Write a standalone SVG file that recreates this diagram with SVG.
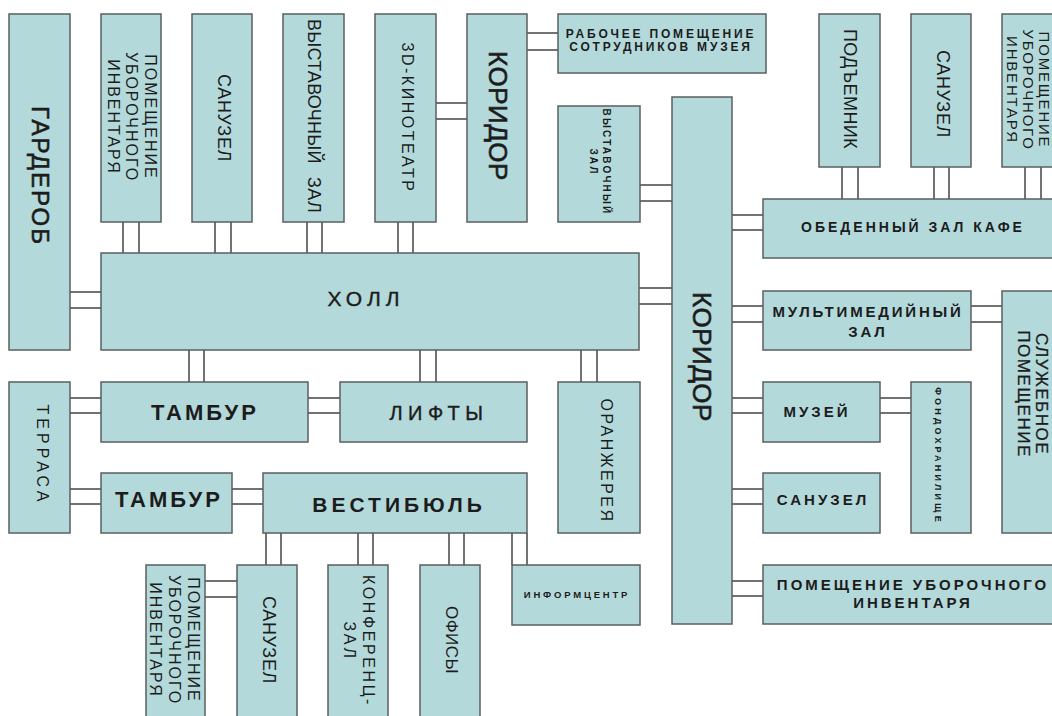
<svg xmlns="http://www.w3.org/2000/svg" width="1052" height="716" viewBox="0 0 1052 716">
<style>
.box{fill:#b4d9da;stroke:#5a5f60;stroke-width:1.5}
.c path{stroke:#444;stroke-width:1.5;fill:none}
text{font-family:"Liberation Sans",Arial,sans-serif;fill:#1c1c1c;text-anchor:middle}
.b{font-weight:bold}
.m{stroke:#1c1c1c;stroke-width:0.6}
</style>
<rect width="1052" height="716" fill="#fff"/>
<g id="connectors" class="c">
<path d="M123 222V253M139 222V253"/>
<path d="M215 222V253M231 222V253"/>
<path d="M307 222V253M322 222V253"/>
<path d="M398 222V253M413 222V253"/>
<path d="M189 350V382M204 350V382"/>
<path d="M420 350V382M436 350V382"/>
<path d="M581 350V382M597 350V382"/>
<path d="M842 167V199M858 167V199"/>
<path d="M934 167V199M949 167V199"/>
<path d="M1025 167V199M1041 167V199"/>
<path d="M266 533V565M281 533V565"/>
<path d="M358 533V565M373 533V565"/>
<path d="M449 533V565M464 533V565"/>
<path d="M512 533V565M527 533V565"/>
<path d="M436 103H467M436 119H467"/>
<path d="M527 33H558M527 50H558"/>
<path d="M640 185H672M640 201H672"/>
<path d="M639 288H672M639 304H672"/>
<path d="M732 215H763M732 230H763"/>
<path d="M732 306H763M732 322H763"/>
<path d="M732 398H763M732 413H763"/>
<path d="M732 489H763M732 504H763"/>
<path d="M732 581H763M732 596H763"/>
<path d="M971 306H1002M971 322H1002"/>
<path d="M880 398H911M880 413H911"/>
<path d="M70 292H101M70 308H101"/>
<path d="M70 398H101M70 413H101"/>
<path d="M308 398H340M308 413H340"/>
<path d="M70 489H101M70 504H101"/>
<path d="M232 489H263M232 504H263"/>
<path d="M205 581H237M205 597H237"/>
</g>
<g id="garderob"><rect class="box" x="9" y="14" width="61" height="336"/>
<text class="m" font-size="24" letter-spacing="2" transform="translate(40.5,176) rotate(90)" y="8.5">ГАРДЕРОБ</text></g>
<g id="pom-ub-1"><rect class="box" x="101" y="14" width="60" height="208"/>
<text font-size="16" letter-spacing="2" transform="translate(132,117) rotate(90)"><tspan x="0" y="-12.5">ПОМЕЩЕНИЕ</tspan><tspan x="0" y="6">УБОРОЧНОГО</tspan><tspan x="0" y="24.5">ИНВЕНТАРЯ</tspan></text></g>
<g id="sanuzel-1"><rect class="box" x="192" y="14" width="60" height="208"/>
<text font-size="18" letter-spacing="0.7" transform="translate(224,118) rotate(90)" y="6.5">САНУЗЕЛ</text></g>
<g id="vyst-zal-1"><rect class="box" x="283" y="14" width="61" height="208"/>
<text font-size="18" letter-spacing="0.3" word-spacing="8" transform="translate(314,116) rotate(90)" y="6.5">ВЫСТАВОЧНЫЙ ЗАЛ</text></g>
<g id="kino"><rect class="box" x="375" y="14" width="61" height="208"/>
<text font-size="16" letter-spacing="2.5" transform="translate(408,118) rotate(90)" y="6">3D-КИНОТЕАТР</text></g>
<g id="koridor-1"><rect class="box" x="467" y="14" width="60" height="208"/>
<text class="m" font-size="26" letter-spacing="0.5" transform="translate(498,116) rotate(90)" y="9.3">КОРИДОР</text></g>
<g id="rabochee"><rect class="box" x="558" y="14" width="208" height="59"/>
<text class="b" font-size="12" letter-spacing="2.8" x="661" y="38">РАБОЧЕЕ ПОМЕЩЕНИЕ</text>
<text class="b" font-size="12" letter-spacing="2.8" x="661" y="51">СОТРУДНИКОВ МУЗЕЯ</text></g>
<g id="vyst-zal-2"><rect class="box" x="558" y="106" width="82" height="116"/>
<text class="b" font-size="10" letter-spacing="2.2" transform="translate(600,162) rotate(90)"><tspan x="0" y="-3">ВЫСТАВОЧНЫЙ</tspan><tspan x="0" y="10">ЗАЛ</tspan></text></g>
<g id="podemnik"><rect class="box" x="819" y="14" width="61" height="153"/>
<text font-size="18" letter-spacing="0.4" transform="translate(850,89) rotate(90)" y="6.5">ПОДЪЕМНИК</text></g>
<g id="sanuzel-2"><rect class="box" x="911" y="14" width="60" height="153"/>
<text font-size="18" letter-spacing="0.7" transform="translate(943,94) rotate(90)" y="6.5">САНУЗЕЛ</text></g>
<g id="pom-ub-2"><rect class="box" x="1002" y="14" width="60" height="153"/>
<text font-size="15" letter-spacing="1.8" transform="translate(1028,90) rotate(90)"><tspan x="0" y="-10.5">ПОМЕЩЕНИЕ</tspan><tspan x="0" y="5.5">УБОРОЧНОГО</tspan><tspan x="0" y="21.5">ИНВЕНТАРЯ</tspan></text></g>
<g id="holl"><rect class="box" x="101" y="253" width="538" height="97"/>
<text class="m" font-size="21" letter-spacing="5" x="366" y="306" style="stroke-width:0.4">ХОЛЛ</text></g>
<g id="koridor-2"><rect class="box" x="672" y="97" width="60" height="527"/>
<text class="m" font-size="26" letter-spacing="0.5" transform="translate(702,357) rotate(90)" y="9.3">КОРИДОР</text></g>
<g id="obed"><rect class="box" x="763" y="199" width="300" height="59"/>
<text class="b" font-size="14" letter-spacing="3" x="913" y="232">ОБЕДЕННЫЙ ЗАЛ КАФЕ</text></g>
<g id="multimedia"><rect class="box" x="763" y="291" width="208" height="59"/>
<text class="b" font-size="15" letter-spacing="2.8" x="868" y="317">МУЛЬТИМЕДИЙНЫЙ</text>
<text class="b" font-size="15" letter-spacing="2.8" x="868" y="337">ЗАЛ</text></g>
<g id="sluzhebnoe"><rect class="box" x="1002" y="291" width="60" height="242"/>
<text class="m" font-size="17" letter-spacing="1.5" transform="translate(1033,394) rotate(90)" style="stroke-width:0.3"><tspan x="0" y="-3">СЛУЖЕБНОЕ</tspan><tspan x="0" y="15">ПОМЕЩЕНИЕ</tspan></text></g>
<g id="muzey"><rect class="box" x="763" y="382" width="117" height="60"/>
<text class="b" font-size="15" letter-spacing="3" x="817" y="417">МУЗЕЙ</text></g>
<g id="fondohranilishe"><rect class="box" x="911" y="382" width="60" height="151"/>
<text class="b" font-size="9" letter-spacing="3.2" transform="translate(938,456) rotate(90)" y="3.3">ФОНДОХРАНИЛИЩЕ</text></g>
<g id="sanuzel-3"><rect class="box" x="763" y="473" width="117" height="60"/>
<text class="b" font-size="15" letter-spacing="3" x="823" y="505">САНУЗЕЛ</text></g>
<g id="pom-ub-3"><rect class="box" x="763" y="565" width="300" height="59"/>
<text class="b" font-size="15" letter-spacing="3" x="913" y="590">ПОМЕЩЕНИЕ УБОРОЧНОГО</text>
<text class="b" font-size="15" letter-spacing="3" x="913" y="608">ИНВЕНТАРЯ</text></g>
<g id="tambur-1"><rect class="box" x="101" y="382" width="207" height="60"/>
<text class="b" font-size="22" letter-spacing="3" x="205" y="420">ТАМБУР</text></g>
<g id="lifty"><rect class="box" x="340" y="382" width="187" height="60"/>
<text class="m" font-size="20" letter-spacing="5.5" x="439" y="420" style="stroke-width:0.4">ЛИФТЫ</text></g>
<g id="oranzhereya"><rect class="box" x="558" y="382" width="82" height="151"/>
<text font-size="16" letter-spacing="2.5" transform="translate(607,461) rotate(90)" y="6">ОРАНЖЕРЕЯ</text></g>
<g id="terrasa"><rect class="box" x="9" y="382" width="61" height="151"/>
<text font-size="16" letter-spacing="4" transform="translate(43,455) rotate(90)" y="6">ТЕРРАСА</text></g>
<g id="tambur-2"><rect class="box" x="101" y="473" width="131" height="60"/>
<text class="b" font-size="22" letter-spacing="3" x="169" y="507">ТАМБУР</text></g>
<g id="vestibul"><rect class="box" x="263" y="473" width="264" height="60"/>
<text class="b" font-size="21" letter-spacing="4" x="399" y="512">ВЕСТИБЮЛЬ</text></g>
<g id="pom-ub-4"><rect class="box" x="146" y="565" width="59" height="160"/>
<text font-size="16" letter-spacing="2" transform="translate(175,640) rotate(90)"><tspan x="0" y="-13">ПОМЕЩЕНИЕ</tspan><tspan x="0" y="6">УБОРОЧНОГО</tspan><tspan x="0" y="25">ИНВЕНТАРЯ</tspan></text></g>
<g id="sanuzel-4"><rect class="box" x="237" y="565" width="60" height="160"/>
<text font-size="18" letter-spacing="0.7" transform="translate(269,640) rotate(90)" y="6.5">САНУЗЕЛ</text></g>
<g id="konferenc"><rect class="box" x="328" y="565" width="60" height="160"/>
<text font-size="16" letter-spacing="2.6" transform="translate(359,641) rotate(90)"><tspan x="0" y="-3.5">КОНФЕРЕНЦ-</tspan><tspan x="0" y="15.5">ЗАЛ</tspan></text></g>
<g id="ofisy"><rect class="box" x="420" y="565" width="60" height="160"/>
<text font-size="17" letter-spacing="0.5" transform="translate(452,640) rotate(90)" y="6">ОФИСЫ</text></g>
<g id="infocentr"><rect class="box" x="512" y="565" width="128" height="60"/>
<text class="b" font-size="9.5" letter-spacing="2.8" x="577" y="598">ИНФОРМЦЕНТР</text></g>
</svg>
